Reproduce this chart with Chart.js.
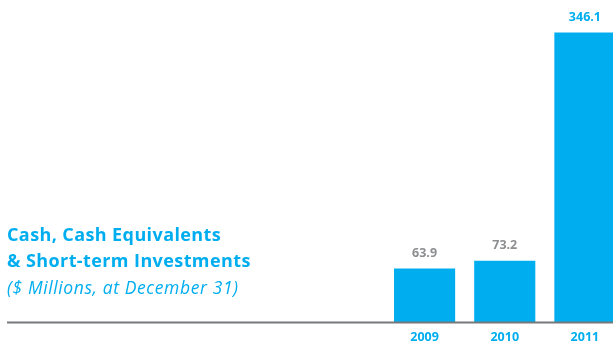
<!DOCTYPE html>
<html>
<head>
<meta charset="utf-8">
<script src="https://cdn.jsdelivr.net/npm/chart.js@4/dist/chart.umd.min.js"></script>
<style>
  html, body { margin: 0; padding: 0; background: #fff; overflow: hidden; width: 613px; height: 345px; }
  #wrap { position: relative; width: 613px; height: 345px; overflow: hidden; }
  #c { position: absolute; left: 0; top: 0; }
  .t { position: absolute; left: 7px; color: #00aeef; white-space: nowrap; font-family: "Open Sans", sans-serif; line-height: 1; }
  .b { font-weight: 700; font-size: 18px; letter-spacing: 0.4px; }
  .i { font-style: italic; font-weight: 400; font-size: 17.5px; letter-spacing: 0.6px; }
</style>
</head>
<body>
<div id="wrap">
  <canvas id="c" width="625" height="353"></canvas>
  <div class="t b" style="top:225px">Cash, Cash Equivalents</div>
  <div class="t b" style="top:251px">&amp; Short-term Investments</div>
  <div class="t i" style="top:278.5px">($ Millions, at December 31)</div>
</div>
<script>
// Year-end balances
const years = ['2009', '2010', '2011'];
const cashValues = [63.9, 73.2, 346.1];
const valueLabelColors = ['#8d8e90', '#8d8e90', '#00aeef'];

const CYAN = '#00aeef';
const AXIS_GREY = '#77787b';

// Value labels above each bar
const valueLabels = {
  id: 'valueLabels',
  afterDatasetsDraw(chart) {
    const ctx = chart.ctx;
    const meta = chart.getDatasetMeta(0);
    ctx.save();
    ctx.font = '700 12.5px "Open Sans", sans-serif';
    ctx.textAlign = 'center';
    ctx.textBaseline = 'middle';
    meta.data.forEach((bar, i) => {
      ctx.fillStyle = valueLabelColors[i];
      ctx.fillText(cashValues[i].toFixed(1), bar.x, bar.y - 15);
    });
    ctx.restore();
  }
};

// Baseline running the full width under the bars
const baseline = {
  id: 'baseline',
  afterDatasetsDraw(chart) {
    const ctx = chart.ctx;
    const y = chart.scales.y.getPixelForValue(0);
    ctx.save();
    ctx.strokeStyle = AXIS_GREY;
    ctx.lineWidth = 2;
    ctx.beginPath();
    ctx.moveTo(7, y + 0.5);
    ctx.lineTo(chart.width, y + 0.5);
    ctx.stroke();
    ctx.restore();
  }
};

new Chart(document.getElementById('c'), {
  type: 'bar',
  data: {
    labels: years,
    datasets: [{
      data: cashValues,
      backgroundColor: CYAN,
      borderWidth: 0,
      barPercentage: 0.7625,
      categoryPercentage: 1
    }]
  },
  options: {
    responsive: false,
    animation: false,
    layout: { padding: { left: 384.5, right: 0, top: 0, bottom: 0 } },
    plugins: { legend: { display: false }, tooltip: { enabled: false } },
    scales: {
      x: {
        grid: { display: false, drawTicks: false },
        border: { display: false },
        ticks: {
          color: CYAN,
          padding: 8,
          font: { family: 'Open Sans', weight: '700', size: 12.5 }
        }
      },
      y: {
        display: false,
        min: 0,
        max: 385
      }
    }
  },
  plugins: [valueLabels, baseline]
});
</script>
</body>
</html>
